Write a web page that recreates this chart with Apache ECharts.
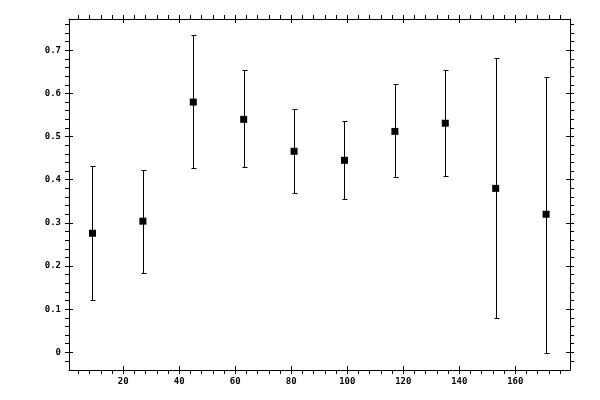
<!DOCTYPE html>
<html>
<head>
<meta charset="utf-8">
<script src="https://cdn.jsdelivr.net/npm/echarts@6/dist/echarts.min.js"></script>
<style>html,body{margin:0;padding:0;background:#fff}#c{width:600px;height:400px}</style>
</head>
<body>
<div id="c"></div>
<script>
const xValues = [9, 27, 45, 63, 81, 99, 117, 135, 153, 171];
const yValues = [0.276, 0.304, 0.580, 0.540, 0.466, 0.445, 0.512, 0.531, 0.380, 0.320];
const yUpper  = [0.432, 0.422, 0.735, 0.654, 0.563, 0.536, 0.621, 0.654, 0.683, 0.639];
const yLower  = [0.121, 0.185, 0.427, 0.429, 0.369, 0.355, 0.406, 0.409, 0.079, -0.002];
const xMajorTicks = [20, 40, 60, 80, 100, 120, 140, 160];
const xMinorTicks = [];
for (let v = 4; v <= 176; v += 4) xMinorTicks.push(v);
const yMajorTicks = [0, 0.1, 0.2, 0.3, 0.4, 0.5, 0.6, 0.7];
const yMinorTicks = [];
for (let i = -1; i <= 38; i++) yMinorTicks.push(+(i * 0.02).toFixed(2));

const X_MIN = 0.61, X_MAX = 179.54, Y_MIN = -0.041, Y_MAX = 0.7726;
const FONT = { color: '#000', fontFamily: 'DejaVu Sans Mono', fontSize: 9, fontWeight: 'bold' };

function xAx(pos, inside, ticks, labels, line) {
  return {
    type: 'value', position: pos, min: X_MIN, max: X_MAX,
    splitLine: { show: false },
    axisLine: { show: line, onZero: false, lineStyle: { color: '#000', width: 1 } },
    axisTick: { show: true, inside: inside, length: 4, customValues: ticks, lineStyle: { color: '#000', width: 1 } },
    axisLabel: labels ? Object.assign({ show: true, margin: 7, customValues: xMajorTicks }, FONT) : { show: false },
    minorTick: { show: false }
  };
}
function yAx(pos, inside, ticks, labels, line) {
  return {
    type: 'value', position: pos, min: Y_MIN, max: Y_MAX,
    splitLine: { show: false },
    axisLine: { show: line, onZero: false, lineStyle: { color: '#000', width: 1 } },
    axisTick: { show: true, inside: inside, length: 4, customValues: ticks, lineStyle: { color: '#000', width: 1 } },
    axisLabel: labels ? Object.assign({ show: true, margin: 8, customValues: yMajorTicks,
      formatter: v => (Math.abs(v) < 1e-9 ? '0' : (+v.toFixed(2)).toString()) }, FONT) : { show: false },
    minorTick: { show: false }
  };
}

const errData = xValues.map((x, i) => [x, yLower[i], yUpper[i]]);
const ptData = xValues.map((x, i) => [x, yValues[i]]);

const chart = echarts.init(document.getElementById('c'));
chart.setOption({
  backgroundColor: '#fff',
  animation: false,
  grid: { left: 69, right: 30, top: 19, bottom: 30, containLabel: false },
  xAxis: [
    xAx('bottom', false, xMinorTicks, true, true),
    xAx('bottom', true, xMajorTicks, false, false),
    xAx('top', false, xMinorTicks, false, true),
    xAx('top', true, xMajorTicks, false, false)
  ],
  yAxis: [
    yAx('left', false, yMinorTicks, true, true),
    yAx('left', true, yMajorTicks, false, false),
    yAx('right', false, yMinorTicks, false, true),
    yAx('right', true, yMajorTicks, false, false)
  ],
  series: [
    {
      type: 'custom', xAxisIndex: 0, yAxisIndex: 0, z: 2,
      data: errData,
      renderItem: function (params, api) {
        const x = api.value(0), lo = api.value(1), hi = api.value(2);
        const pH = api.coord([x, hi]), pL = api.coord([x, lo]);
        const cx = Math.round(pH[0]) + 0.5;
        const yh = Math.round(pH[1]) + 0.5, yl = Math.round(pL[1]) + 0.5;
        const w = 2;
        const st = { stroke: '#000', lineWidth: 1 };
        return {
          type: 'group', children: [
            { type: 'line', shape: { x1: cx, y1: yh, x2: cx, y2: yl }, style: st },
            { type: 'line', shape: { x1: cx - w, y1: yh, x2: cx + w + 1, y2: yh }, style: st },
            { type: 'line', shape: { x1: cx - w, y1: yl, x2: cx + w + 1, y2: yl }, style: st }
          ]
        };
      }
    },
    {
      type: 'scatter', xAxisIndex: 0, yAxisIndex: 0, z: 3,
      symbol: 'rect', symbolSize: 7,
      itemStyle: { color: '#000', opacity: 1 },
      data: ptData
    }
  ]
});
</script>
</body>
</html>
